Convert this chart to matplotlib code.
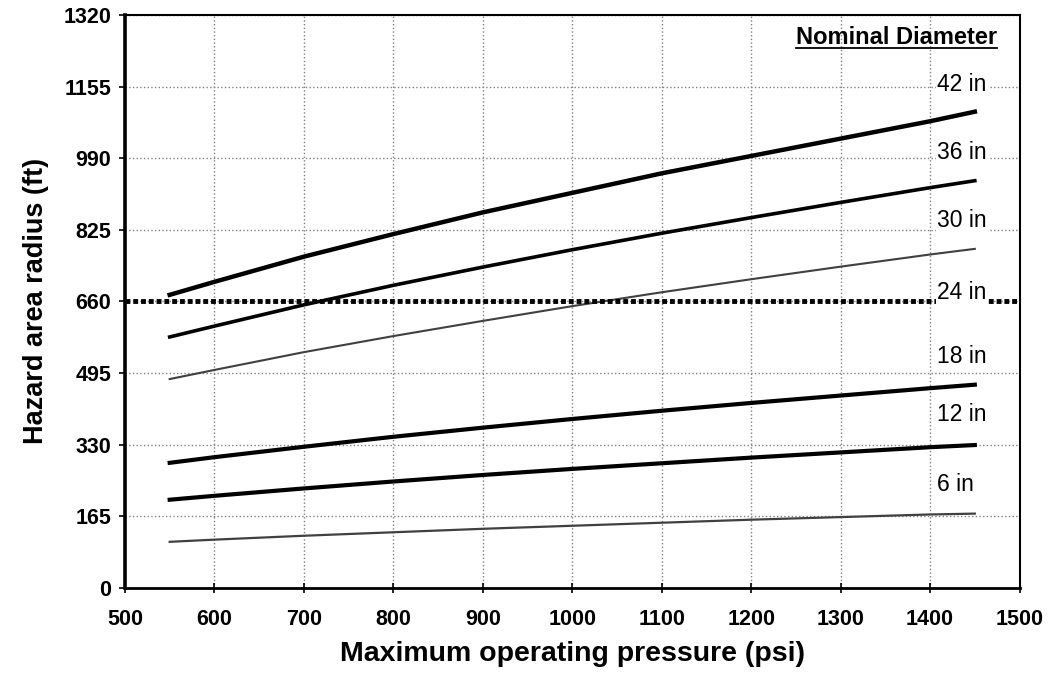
import numpy as np
import matplotlib.pyplot as plt

plt.rcParams['font.family'] = ['Liberation Sans', 'DejaVu Sans']

# pressure (psi) where curves were read
pressure = [550, 600, 700, 800, 900, 1000, 1100, 1200, 1300, 1400, 1450]

# hazard area radius (ft), per nominal diameter
r_42 = [675, 705, 763, 815, 865, 910, 955, 995, 1035, 1075, 1097]
r_36 = [578, 603, 652, 697, 739, 779, 817, 853, 888, 922, 938]
r_30 = [481, 502, 543, 580, 615, 649, 681, 711, 740, 768, 781]
r_18 = [288, 301, 325, 348, 369, 389, 408, 426, 443, 460, 468]
r_12 = [203, 212, 229, 245, 260, 274, 287, 300, 312, 324, 329]
r_6 = [106, 111, 120, 128, 136, 143, 150, 157, 163, 169, 171]

limit_660 = 660
labels = ['42 in', '36 in', '30 in', '24 in', '18 in', '12 in', '6 in']
label_y = [1160, 1002, 846, 680, 532, 399, 237]

x_ticks = list(range(500, 1501, 100))
y_ticks = [0, 165, 330, 495, 660, 825, 990, 1155, 1320]

fig = plt.figure(figsize=(10.5, 6.78), dpi=100)
ax = fig.add_axes([0.119, 0.133, 0.852, 0.845])

ax.set_xlim(500, 1500)
ax.set_ylim(0, 1320)
ax.set_xticks(x_ticks)
ax.set_yticks(y_ticks)
ax.grid(True, linestyle=':', color='0.5', lw=1)
ax.set_axisbelow(True)

# curves
ax.plot(pressure, r_42, color='black', lw=3.2)
ax.plot(pressure, r_36, color='black', lw=2.6)
ax.plot(pressure, r_30, color='0.25', lw=1.5)
ax.plot(pressure, r_18, color='black', lw=3.0)
ax.plot(pressure, r_12, color='black', lw=3.0)
ax.plot(pressure, r_6, color='0.25', lw=1.6)

# 24 in -> constant 660 ft line
ax.plot([500, 1500], [limit_660, limit_660], color='black', lw=3.5,
        linestyle=(0, (1.0, 0.6)), clip_on=False)

for lab, yy in zip(labels, label_y):
    ax.text(1408, yy, lab, fontsize=16.5, ha='left', va='center',
            bbox=dict(facecolor='white', edgecolor='none', pad=1))

head = ax.text(1475, 1267, 'Nominal Diameter', fontsize=17, fontweight='bold',
               ha='right', va='center')

for side in ['top', 'right']:
    ax.spines[side].set_linewidth(1.5)
ax.spines['left'].set_linewidth(2.6)
ax.spines['bottom'].set_linewidth(2.0)

ax.tick_params(axis='y', direction='out', length=4, width=1.2,
               labelsize=15.5, pad=6)
ax.tick_params(axis='x', direction='inout', length=7, width=1.2,
               labelsize=15.5, pad=12)
for t in ax.get_xticklabels() + ax.get_yticklabels():
    t.set_fontweight('bold')

ax.set_xlabel('Maximum operating pressure (psi)', fontsize=20.5,
              fontweight='bold', labelpad=8)
ax.set_ylabel('Hazard area radius (ft)', fontsize=19.5, fontweight='bold',
              labelpad=10)

# underline the heading across its full width
fig.canvas.draw()
bb = head.get_window_extent().transformed(ax.transData.inverted())
ax.plot([bb.x0, bb.x1], [1244, 1244], color='black', lw=1.3)

fig.savefig('out.png', dpi=100)
